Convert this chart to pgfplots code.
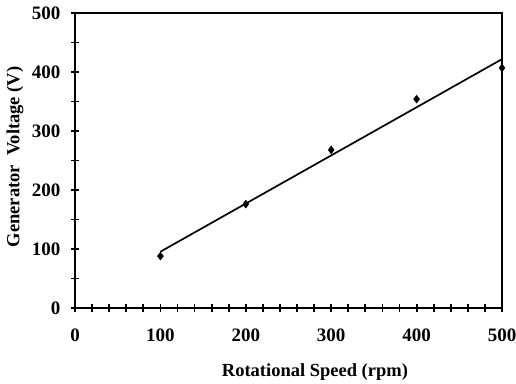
\documentclass[border=0pt]{standalone}
\usepackage{fontspec}
\setmainfont{Liberation Serif}
\usepackage{pgfplots}
\pgfplotsset{compat=1.18}
\begin{document}
\begin{tikzpicture}
\path[use as bounding box] (0,0) rectangle (516bp,384bp);
\begin{axis}[
  at={(75bp,76bp)}, anchor=south west,
  scale only axis, width=427bp, height=295bp,
  xmin=0, xmax=500, ymin=0, ymax=500,
  xtick={0,100,...,500}, ytick={0,100,...,500},
  minor x tick num=4, minor y tick num=1,
  xtick pos=left, ytick pos=left,
  tick align=center,
  major tick length=8bp, minor tick length=8bp,
  every tick/.style={black, line width=1.8bp},
  axis line style={line width=1.9bp},
  /pgf/number format/assume math mode=true,
  ticklabel style={font=\fontsize{19bp}{21bp}\selectfont\bfseries},
  xticklabel style={yshift=-13bp},
  yticklabel style={xshift=-7bp},
  label style={font=\fontsize{18.5bp}{21bp}\selectfont\bfseries},
  xlabel={Rotational Speed (rpm)},
  ylabel={Generator\ \ Voltage (V)},
  xlabel style={at={(axis description cs:0.562,-0.217)}, anchor=center},
  ylabel style={at={(axis description cs:-0.1405,0.512)}, anchor=center, rotate=0},
  clip=false,
]
\addplot[black, line width=1.7bp] coordinates {(100,95.4) (500,421.8)};
\addplot[only marks, mark=diamond*, mark size=4bp, black] coordinates {(100,88) (200,176) (300,268) (400,354) (500,407)};
\end{axis}
\end{tikzpicture}
\end{document}
